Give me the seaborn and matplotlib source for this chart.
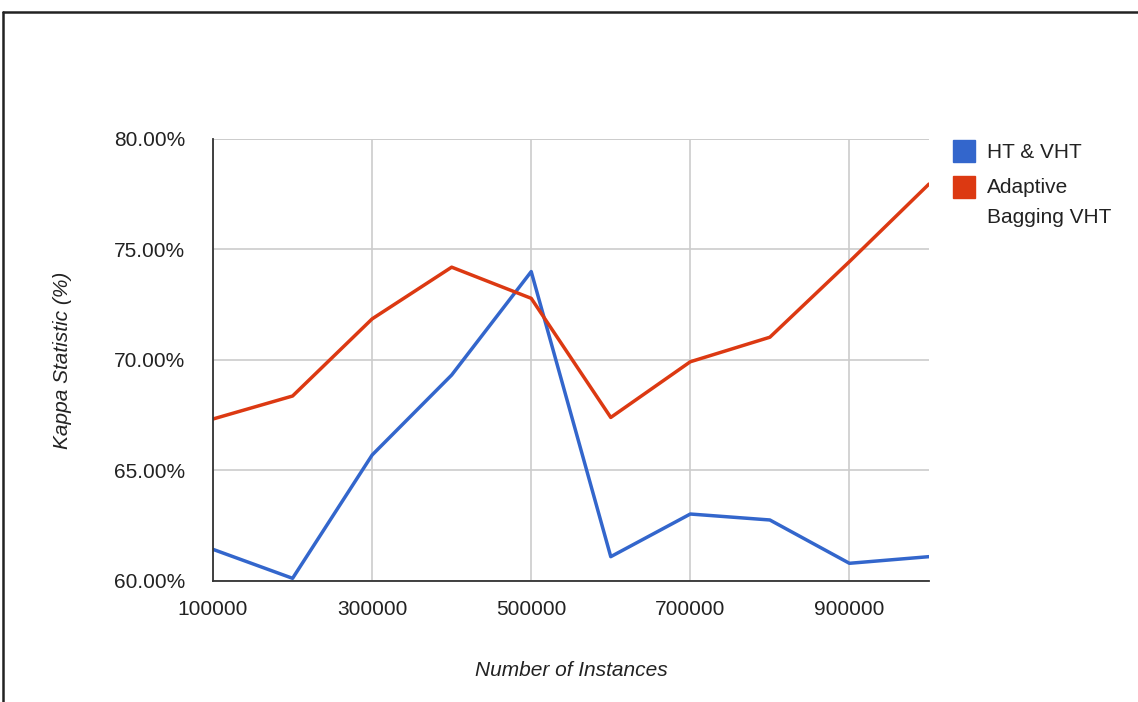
import matplotlib
matplotlib.use("Agg")
import matplotlib.pyplot as plt
import seaborn as sns
import pandas as pd
from matplotlib.patches import Rectangle
from matplotlib.lines import Line2D
from matplotlib.ticker import FuncFormatter

instances = [100000, 200000, 300000, 400000, 500000, 600000, 700000, 800000, 900000, 1000000]
ht_vht = [61.43, 60.12, 65.7, 69.32, 74.0, 61.1, 63.03, 62.76, 60.8, 61.1]
adaptive_bagging = [67.33, 68.37, 71.86, 74.2, 72.79, 67.4, 69.92, 71.03, 74.45, 77.96]
series_names = ["HT & VHT", "Adaptive\nBagging VHT"]
colors = ["#3366CC", "#DC3912"]

df = pd.DataFrame({
    "instances": instances * 2,
    "kappa": ht_vht + adaptive_bagging,
    "series": [series_names[0]] * len(instances) + [series_names[1]] * len(instances),
})

sns.set_style("white")
plt.rcParams['font.family'] = ['Liberation Sans', 'DejaVu Sans']

W, H = 1138, 702
fig = plt.figure(figsize=(W / 100, H / 100), dpi=100)
ax = fig.add_axes([0.1872, 0.1724, 0.8163 - 0.1872, 0.802 - 0.1724])

sns.lineplot(data=df, x="instances", y="kappa", hue="series", palette=colors,
             linewidth=2.5, ax=ax, legend=False)

ax.set_xlim(100000, 1000000)
ax.set_ylim(60, 80)
ax.set_xticks([100000, 300000, 500000, 700000, 900000])
ax.set_xticks([200000, 400000, 600000, 800000], minor=True)
ax.set_yticks([60, 65, 70, 75, 80])
ax.yaxis.set_major_formatter(FuncFormatter(lambda v, p: f"{v:.2f}%"))
ax.tick_params(axis="both", length=0, labelsize=15, labelcolor="#222222")
ax.tick_params(axis="y", pad=20)
ax.tick_params(axis="x", pad=14)
ax.tick_params(axis="x", which="minor", length=0)

ax.grid(True, which="major", color="#cccccc", linewidth=1.2)
for s in ["top", "right"]:
    ax.spines[s].set_visible(False)
for s in ["left", "bottom"]:
    ax.spines[s].set_color("#333333")
    ax.spines[s].set_linewidth(1.3)
ax.set_axisbelow(True)
ax.axhline(80, color="#cccccc", linewidth=1.2, zorder=0)

ax.set_xlabel("Number of Instances", fontsize=15, style="italic", color="#222222", labelpad=30)
ax.set_ylabel("Kappa Statistic (%)", fontsize=15, style="italic", color="#222222", labelpad=30)

# legend, drawn by hand so the square sits on the first text line
legend_rows = [151, 187]
for name, c, yc in zip(series_names, colors, legend_rows):
    fig.add_artist(Rectangle((953 / W, 1 - (yc + 11) / H), 22 / W, 22 / H,
                             facecolor=c, edgecolor=c, transform=fig.transFigure))
    if "\n" in name:
        fig.text(987 / W, 1 - (yc - 9) / H, name, fontsize=15, color="#222222",
                 va="top", linespacing=1.75)
    else:
        fig.text(987 / W, 1 - (yc + 2) / H, name, fontsize=15, color="#222222",
                 va="center")

# frame on left and top of the picture
fig.add_artist(Line2D([0.003, 0.003], [0.0, 0.983], color="#222222", linewidth=1.8))
fig.add_artist(Line2D([0.003, 1.0], [0.983, 0.983], color="#222222", linewidth=1.8))

fig.savefig("out.png", dpi=100, facecolor="white")
